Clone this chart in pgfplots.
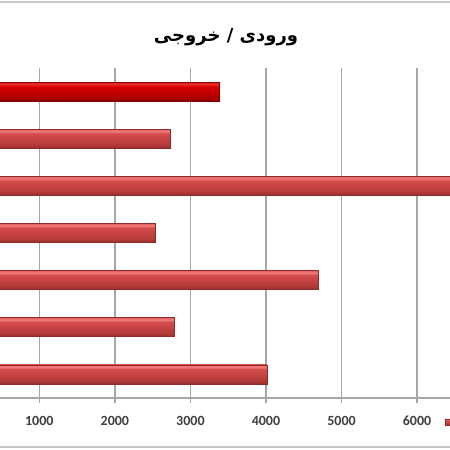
\documentclass[border=0pt]{standalone}
\usepackage{pgfplots}
\pgfplotsset{compat=1.18}
\usepackage{fontspec}
\setmainfont{Carlito}
\newfontfamily\arabicfont[Script=Arabic]{DejaVu Sans}
\TeXXeTstate=1
\definecolor{gridc}{HTML}{A6A6A6}
\definecolor{labc}{HTML}{404040}
\definecolor{bordc}{HTML}{C8C8C8}
\definecolor{barEdge}{HTML}{8E2A2A}
\definecolor{rEdge}{HTML}{8A0000}
\pgfdeclareverticalshading{pinkshade}{100bp}{%
  color(0bp)=(rgb,255:red,150;green,46;blue,46);
  color(25bp)=(rgb,255:red,150;green,46;blue,46);
  color(35bp)=(rgb,255:red,180;green,58;blue,58);
  color(55bp)=(rgb,255:red,204;green,70;blue,70);
  color(64bp)=(rgb,255:red,214;green,78;blue,78);
  color(69bp)=(rgb,255:red,240;green,120;blue,120);
  color(72bp)=(rgb,255:red,238;green,112;blue,112);
  color(75bp)=(rgb,255:red,224;green,96;blue,96);
  color(100bp)=(rgb,255:red,224;green,96;blue,96)}
\pgfdeclareverticalshading{redshade}{100bp}{%
  color(0bp)=(rgb,255:red,140;green,0;blue,0);
  color(25bp)=(rgb,255:red,140;green,0;blue,0);
  color(35bp)=(rgb,255:red,176;green,0;blue,0);
  color(55bp)=(rgb,255:red,204;green,0;blue,0);
  color(64bp)=(rgb,255:red,214;green,6;blue,6);
  color(70bp)=(rgb,255:red,232;green,44;blue,44);
  color(75bp)=(rgb,255:red,216;green,24;blue,24);
  color(100bp)=(rgb,255:red,216;green,24;blue,24)}
\pgfplotsset{
  pinkbar/.style={xbar, bar shift=0pt, bar width=9.5pt, draw=barEdge, line width=0.4pt,
    shade, shading=pinkshade},
  redbar/.style={xbar, bar shift=0pt, bar width=9.5pt, draw=rEdge, line width=0.4pt,
    shade, shading=redshade},
}
\begin{document}
\begin{tikzpicture}[x=1pt,y=1pt]
\useasboundingbox (0,0) rectangle (225,225);
\fill[white] (0,0) rectangle (225,225);
\begin{scope}
\clip (0,0) rectangle (225,225);
\begin{axis}[
  at={(-18.1pt,26pt)}, anchor=south west,
  scale only axis, width=264.4pt, height=165pt,
  xmin=0, xmax=7000, ymin=-0.5, ymax=6.5,
  ytick=\empty,
  xtick={1000,2000,3000,4000,5000,6000},
  xmajorgrids, grid style={gridc, line width=0.8pt},
  axis lines*=left,
  axis line style={gridc, line width=0.8pt, -},
  tick style={gridc, line width=0.8pt},
  tick align=outside, major tick length=2.5pt,
  xticklabel style={font=\bfseries\fontsize{7}{8}\selectfont, text=labc, yshift=-3pt},
  scaled x ticks=false,
  /pgf/number format/assume math mode=true,
  /pgf/number format/1000 sep={},
  legend style={at={(0.909,-0.0727)}, anchor=west, draw=none, fill=none, inner sep=0pt},
]
\addplot[pinkbar] coordinates {(4017,0)};
\addlegendentry{}
\addplot[pinkbar] coordinates {(2790,1)};
\addplot[pinkbar] coordinates {(4689,2)};
\addplot[pinkbar] coordinates {(2539,3)};
\addplot[pinkbar] coordinates {(6800,4)};
\addplot[pinkbar] coordinates {(2733,5)};
\addplot[redbar] coordinates {(3390,6)};
\end{axis}
\draw[bordc, line width=1pt] (0,224) -- (225,224);
\draw[bordc, line width=1pt] (0,1.4) -- (225,1.4);
\end{scope}
\node[font=\arabicfont\bfseries\fontsize{9}{11}\selectfont, text=black] at (113,206.5) {\beginR ورودی / خروجی\endR};
\end{tikzpicture}
\end{document}
